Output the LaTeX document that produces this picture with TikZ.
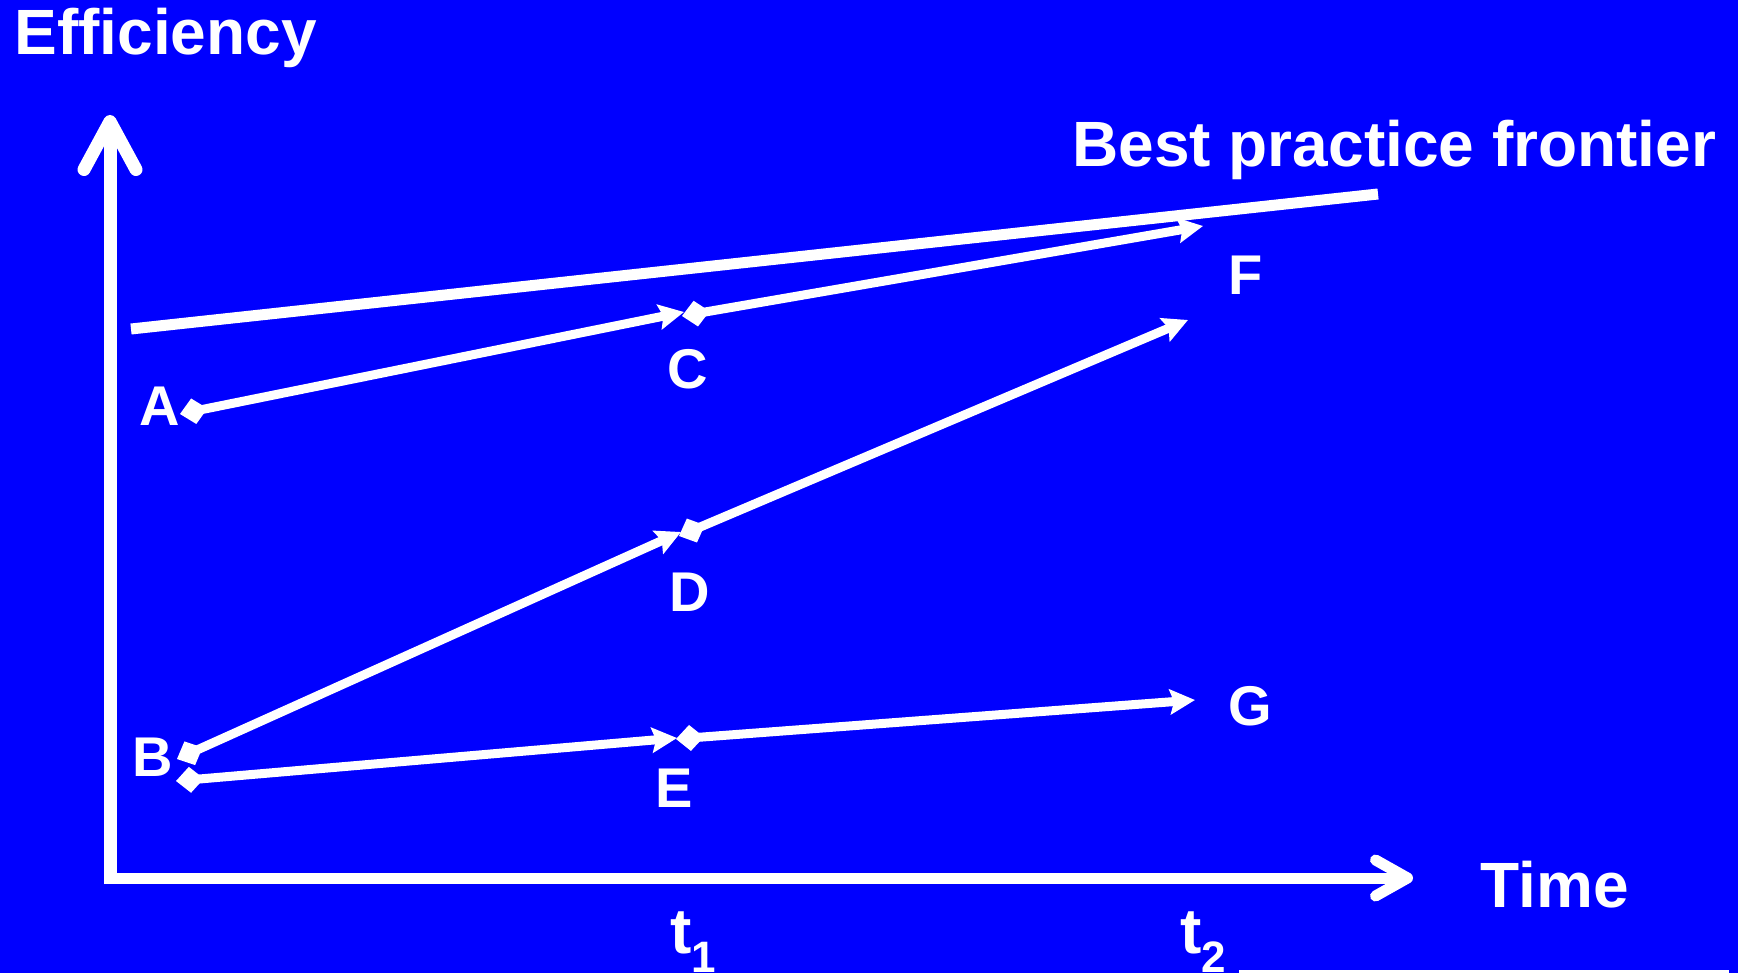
\documentclass[tikz,border=0pt]{standalone}
\usepackage{fontspec}
\setmainfont{Liberation Sans}
\usetikzlibrary{arrows.meta}
\definecolor{bgblue}{RGB}{0,0,255}
\definecolor{darkred}{RGB}{190,20,40}
\begin{document}
\begin{tikzpicture}[x=0.5pt,y=-0.5pt,
  dataline/.style={white, line width=4.5pt, {Diamond[length=14pt,width=13pt]}-{Stealth[length=12.5pt,width=12.5pt,inset=2pt]}},
  bigtext/.style={text=white, font=\bfseries\fontsize{32}{38}\selectfont, inner sep=0pt},
  lbl/.style={text=white, font=\bfseries\fontsize{28}{34}\selectfont, inner sep=0pt}
]
\fill[bgblue] (0,0) rectangle (1738,973);
\useasboundingbox (0,0) rectangle (1738,973);

% axes
\coordinate (Oy) at (110,884);
\coordinate (Ox) at (104,878);
\coordinate (ytip) at (110,115);
\coordinate (xtip) at (1413,878);
\draw[white, line width=6.5pt, -{Straight Barb[length=24pt,width=26pt,round]}] (Oy) -- (ytip);
\draw[white, line width=5.5pt, -{Straight Barb[length=16pt,width=18pt,round]}] (Ox) -- (xtip);

% frontier
\coordinate (fr1) at (131,329);
\coordinate (fr2) at (1378,194);
\draw[white, line width=5.5pt] (fr1) -- (fr2);

% points
\coordinate (pA) at (180,414);
\coordinate (pCin) at (684,312);
\coordinate (pCout) at (682,316);
\coordinate (pF1) at (1203,226);
\coordinate (pB1) at (177,759);
\coordinate (pDin) at (681,532);
\coordinate (pDout) at (679,536);
\coordinate (pF2) at (1188,320);
\coordinate (pB2) at (176,781);
\coordinate (pEin) at (677,738);
\coordinate (pEout) at (676,739);
\coordinate (pG) at (1195,700);

\draw[dataline] (pA) -- (pCin);
\draw[dataline] (pCout) -- (pF1);
\draw[dataline] (pB1) -- (pDin);
\draw[dataline] (pDout) -- (pF2);
\draw[dataline] (pB2) -- (pEin);
\draw[dataline] (pEout) -- (pG);

% labels
\node[lbl] (A) at (160,406) {A};
\node[lbl] (B) at (153,757) {B};
\node[lbl] (C) at (688,369) {C};
\node[lbl] (D) at (690,592) {D};
\node[lbl] (E) at (674,788) {E};
\node[lbl] (F) at (1246,275) {F};
\node[lbl] (G) at (1250,706) {G};

\node[bigtext, anchor=base west] (eff) at (14,55) {Efficiency};
\node[bigtext, anchor=base west] (bpf) at (1072,167) {Best practice frontier};
\node[bigtext, anchor=base west] (time) at (1480,907) {Time};
\node[bigtext, anchor=base west] (t1) at (670,953) {t\raisebox{-9.5pt}{\fontsize{22}{22}\selectfont 1}};
\node[bigtext, anchor=base west] (t2) at (1180,953) {t\raisebox{-9.5pt}{\fontsize{22}{22}\selectfont 2}};

% cut-off box at bottom edge
\coordinate (bx1) at (1239,971);
\coordinate (bx2) at (1729,971);
\fill[darkred] (1285,976) ellipse [x radius=22, y radius=4];
\draw[white, line width=1.5pt] (bx1) -- (bx2);
\end{tikzpicture}
\end{document}
